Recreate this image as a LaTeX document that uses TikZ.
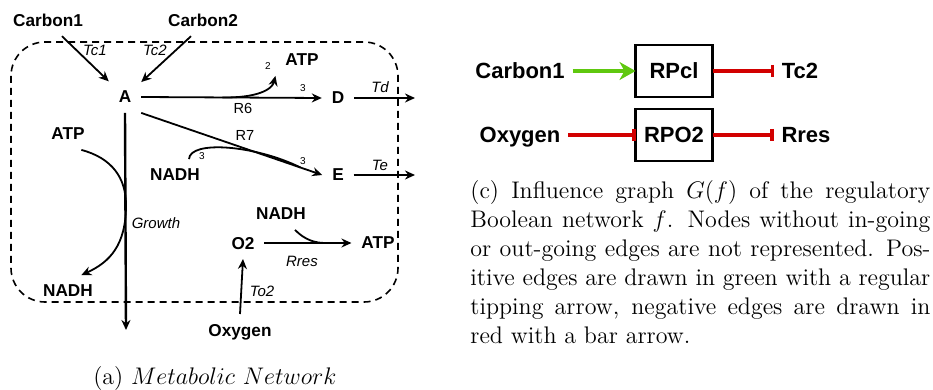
\documentclass[tikz,border=0pt]{standalone}
\usepackage{fontspec}
\setsansfont{Liberation Sans}
\usepackage{amsmath}
\usepackage{xcolor}
\usepackage{tikz}
\usetikzlibrary{arrows.meta, calc}

\definecolor{posgreen}{RGB}{95,200,15}
\definecolor{negred}{RGB}{210,0,0}

\begin{document}
\begin{tikzpicture}[
  x=0.5pt, y=-0.5pt,
  arrow/.style={-{Stealth[length=5pt, width=4.5pt]}, line width=0.9pt},
  metab/.style={font=\sffamily\bfseries\fontsize{8.6}{10}\selectfont, inner sep=1pt, outer sep=4pt, text depth=0pt},
  flux/.style={font=\sffamily\itshape\fontsize{7.5}{9}\selectfont, inner sep=0pt},
  reac/.style={font=\sffamily\fontsize{7.3}{9}\selectfont, inner sep=0pt},
  coef/.style={font=\sffamily\fontsize{5}{6}\selectfont, inner sep=0pt},
  reg_node/.style={font=\sffamily\bfseries\fontsize{11}{13}\selectfont, inner sep=1pt, outer sep=3pt, text depth=0pt},
  reg_box/.style={reg_node, draw, line width=1.1pt, outer sep=0pt, minimum width=38.5pt, minimum height=26pt},
  pos_edge/.style={-{Stealth[length=8pt, width=9pt, inset=2.5pt]}, draw=posgreen, line width=1.6pt},
  neg_edge/.style={-{Bar[width=6pt]}, draw=negred, line width=1.6pt},
  caption/.style={font=\fontsize{12}{14.5}\selectfont}
]
  \useasboundingbox (0,0) rectangle (933,390);

  % (a) METABOLIC NETWORK: cell border
  \draw[dashed, dash pattern=on 3.5pt off 2.5pt, line width=0.8pt, rounded corners=17pt] (11,42) rectangle (398,302);

  % metabolites
  \node (c1) [metab] at (48,20) {Carbon1};
  \node (c2) [metab] at (203,20) {Carbon2};
  \node (A) [metab] at (125,97) {A};
  \node (D) [metab] at (338,98) {D};
  \node (E) [metab] at (338,175) {E};
  \node (atp_r6) [metab] at (302,60) {ATP};
  \node (nadh_r7) [metab] at (175,175) {NADH};
  \node (atp_g) [metab] at (68,134) {ATP};
  \node (nadh_g) [metab] at (68,291) {NADH};
  \node (o2) [metab] at (243,243) {O2};
  \node (nadh_o2) [metab] at (281,214) {NADH};
  \node (atp_o2) [metab] at (378,243) {ATP};
  \node (oxy) [metab] at (240,330) {Oxygen};

  % free ends and branch points
  \coordinate (d_out) at (415,98);
  \coordinate (e_out) at (415,175);
  \coordinate (bio_out) at (126,330);
  \coordinate (r6_split) at ($(A.east)!0.45!(D.west)$);
  \coordinate (r7_merge) at ($(A.south east)!0.88!(E.west)$);
  \coordinate (g_touch) at (126,205);
  \coordinate (res_merge) at ($(o2.east)!0.7!(atp_o2.west)$);

  % reactions
  \draw[arrow] ([xshift=7pt]c1.south) -- (A);
  \draw[arrow] ([xshift=-6pt]c2.south) -- (A);
  \draw[arrow] (A.east) -- (D.west);
  \draw[arrow] (r6_split) .. controls (256,98) and (272,90) .. (atp_r6.south west);
  \draw[arrow] (A.south east) -- (E.west);
  \draw[line width=0.9pt] ([xshift=7pt]nadh_r7.north) .. controls (190,140) and (255,145) .. (r7_merge);
  \draw[arrow] (D.east) -- (d_out);
  \draw[arrow] (E.east) -- (e_out);
  \draw[arrow, line width=1.2pt] (A.south) -- (bio_out);
  \draw[arrow] (atp_g.-50) .. controls (112,158) and (126,178) .. (g_touch)
    .. controls (126,245) and (110,262) .. (nadh_g.50);
  \draw[arrow] (o2.east) -- (atp_o2.west);
  \draw[line width=0.9pt] ([xshift=7pt]nadh_o2.south) .. controls (305,240) and (315,243) .. (res_merge);
  \draw[arrow] (oxy.north) -- (o2.south);

  % reaction labels
  \node (l_tc1) [flux] at (95,50) {Tc1};
  \node (l_tc2) [flux] at (155,50) {Tc2};
  \node (l_r6) [reac] at (243,108) {R6};
  \node (l_r7) [reac] at (245,135) {R7};
  \node (l_td) [flux] at (380,87) {Td};
  \node (l_te) [flux] at (380,165) {Te};
  \node (l_growth) [flux] at (156,223) {Growth};
  \node (l_rres) [flux] at (302,261) {Rres};
  \node (l_to2) [flux] at (262,291) {To2};
  \node (s_atp) [coef] at (268,66) {2};
  \node (s_d) [coef] at (303,88) {3};
  \node (s_nadh) [coef] at (202,156) {3};
  \node (s_e) [coef] at (303,161) {3};

  \node (cap_a) [caption] at (215,379) {(a) $Metabolic\ Network$};

  % (c) INFLUENCE GRAPH
  \node (r_c1) [reg_node] at (520,71) {Carbon1};
  \node (rpcl) [reg_box] at (674,71) {RPcl};
  \node (r_tc2) [reg_node] at (800,71) {Tc2};
  \node (r_oxy) [reg_node] at (520,135) {Oxygen};
  \node (rpo2) [reg_box] at (674,135) {RPO2};
  \node (r_rres) [reg_node] at (806,135) {Rres};

  \draw[pos_edge] (r_c1.east) -- (rpcl.west);
  \draw[neg_edge] (rpcl.east) -- (r_tc2.west);
  \draw[neg_edge] (r_oxy.east) -- (rpo2.west);
  \draw[neg_edge] (rpo2.east) -- (r_rres.west);

  \node (cap_c) [caption, anchor=north west, text width=230pt, align=justify, inner sep=0pt] at (470,180)
    {(c) Influence graph $G(f)$ of the regulatory\linebreak
     Boolean network $f$. Nodes without in-going\linebreak
     or out-going edges are not represented. Pos-\linebreak
     itive edges are drawn in green with a regular\linebreak
     tipping arrow, negative edges are drawn in\linebreak
     red with a bar arrow.};

\end{tikzpicture}
\end{document}
